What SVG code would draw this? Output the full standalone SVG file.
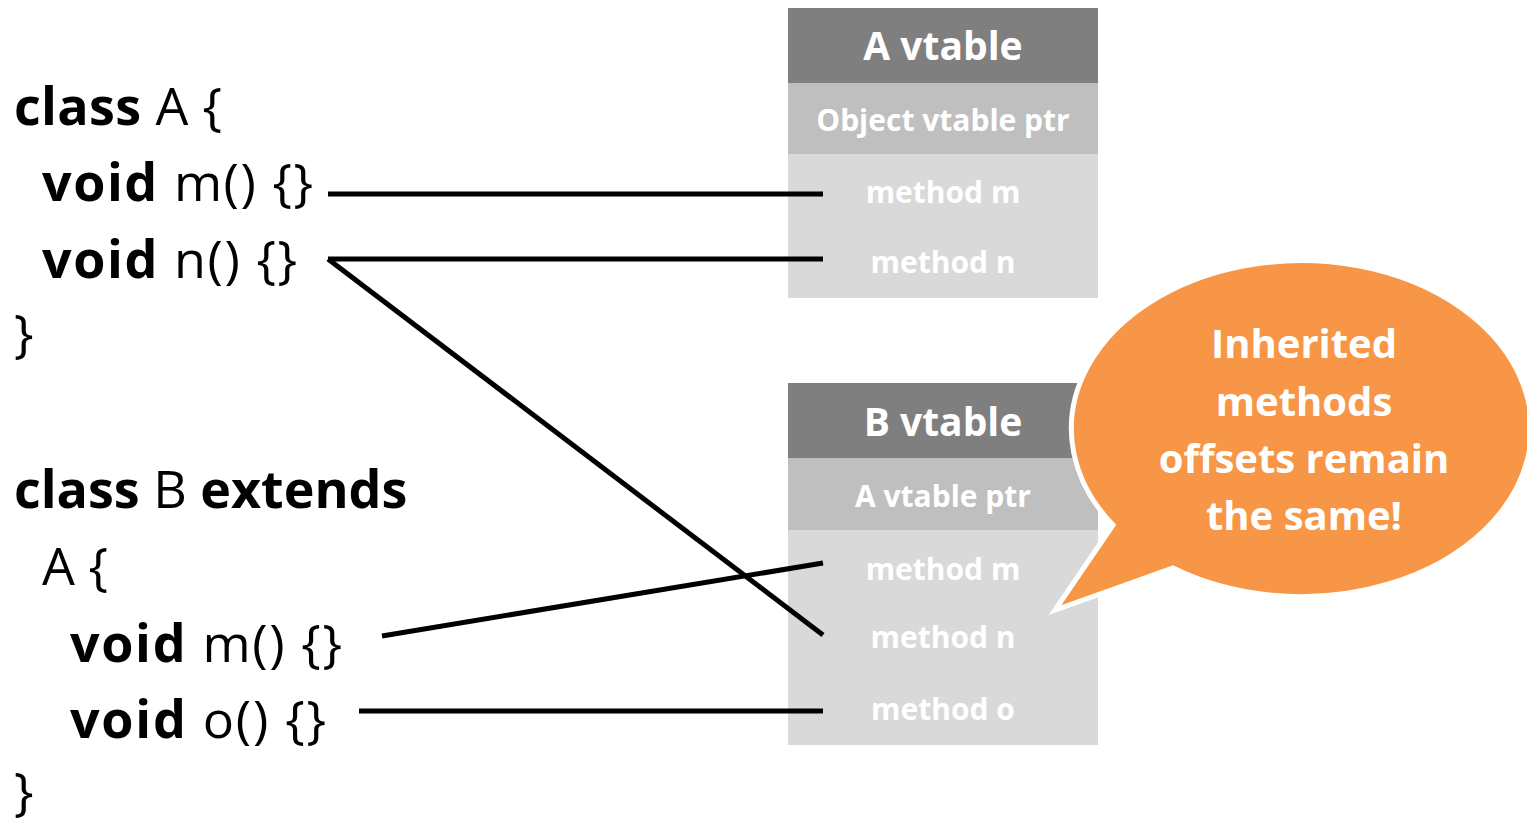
<svg xmlns="http://www.w3.org/2000/svg" width="1527" height="823" viewBox="0 0 1527 823">
<style>
.code{font-family:"Open Sans","Liberation Sans",sans-serif;font-size:52px;fill:#000}
.b{font-weight:bold}
.hdr{fill:#7f7f7f}.ptr{fill:#bfbfbf}.rows{fill:#d9d9d9}
.t{font-family:"Open Sans","Liberation Sans",sans-serif;font-weight:bold;fill:#fff;text-anchor:middle}
.h{font-size:39px}.p{font-size:30px}.m{font-size:30px}
.conn line{stroke:#000;stroke-width:5}
.bub{font-family:"Open Sans","Liberation Sans",sans-serif;font-weight:bold;fill:#fff;text-anchor:middle;font-size:40px}
</style>
<rect width="1527" height="823" fill="#fff"/>
<g id="codeA">
<text class="code" x="14" y="125" textLength="208" lengthAdjust="spacing"><tspan class="b">class</tspan> A {</text>
<text class="code" x="42" y="201" textLength="271" lengthAdjust="spacing"><tspan class="b">void</tspan> m() {}</text>
<text class="code" x="42" y="278" textLength="255" lengthAdjust="spacing"><tspan class="b">void</tspan> n() {}</text>
<text class="code" x="14" y="352">}</text>
</g>
<g id="codeB">
<text class="code" x="14" y="508"><tspan class="b">class</tspan> B <tspan class="b">extends</tspan></text>
<text class="code" x="42" y="585">A {</text>
<text class="code" x="70" y="662" textLength="272" lengthAdjust="spacing"><tspan class="b">void</tspan> m() {}</text>
<text class="code" x="70" y="738" textLength="256" lengthAdjust="spacing"><tspan class="b">void</tspan> o() {}</text>
<text class="code" x="14" y="810">}</text>
</g>
<g id="vtableA">
<rect class="hdr" x="788" y="8" width="310" height="75"/>
<rect class="ptr" x="788" y="83" width="310" height="71"/>
<rect class="rows" x="788" y="154" width="310" height="144"/>
<text class="t h" x="943" y="60">A vtable</text>
<text class="t p" x="943" y="131">Object vtable ptr</text>
<text class="t m" x="943" y="203">method m</text>
<text class="t m" x="943" y="273">method n</text>
</g>
<g id="vtableB">
<rect class="hdr" x="788" y="383" width="310" height="75"/>
<rect class="ptr" x="788" y="458" width="310" height="72"/>
<rect class="rows" x="788" y="530" width="310" height="215"/>
<text class="t h" x="943" y="436">B vtable</text>
<text class="t p" x="943" y="507">A vtable ptr</text>
<text class="t m" x="943" y="580">method m</text>
<text class="t m" x="943" y="648">method n</text>
<text class="t m" x="943" y="720">method o</text>
</g>
<g id="connectors" class="conn">
<line x1="328" y1="194" x2="823" y2="194"/>
<line x1="328" y1="259" x2="823" y2="259"/>
<line x1="328" y1="259" x2="823" y2="635"/>
<line x1="382" y1="636" x2="823" y2="563"/>
<line x1="359" y1="711" x2="823" y2="711"/>
</g>
<g id="bubble">
<path d="M1113,525 L1055,610 L1173,568 A230,168 0 1 0 1113,525 Z" fill="#f79646" stroke="#fff" stroke-width="5" stroke-linejoin="miter"/>
<text class="bub" x="1304" y="358">Inherited</text>
<text class="bub" x="1304" y="416">methods</text>
<text class="bub" x="1304" y="473">offsets remain</text>
<text class="bub" x="1304" y="530">the same!</text>
</g>
</svg>
